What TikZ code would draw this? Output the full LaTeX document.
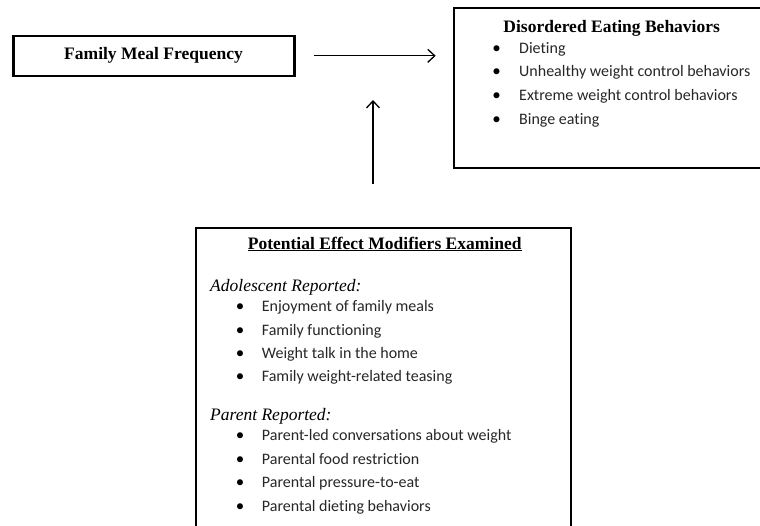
\documentclass[tikz,border=0pt]{standalone}
\usepackage{fontspec}
\setmainfont{Carlito}[Ligatures=NoCommon]
\newfontfamily\headfont{Liberation Serif}
\usetikzlibrary{arrows.meta}

\begin{document}
\begin{tikzpicture}[x=1pt,y=1pt,yscale=-1,xscale=1,
    box/.style={draw, line width=2.6pt, inner sep=0pt},
    flow/.style={line width=1.3pt, -{Straight Barb[length=7pt,width=13pt,line width=1.3pt]}},
    item/.style={anchor=base west, inner sep=0pt, text=black!85, font=\fontsize{16}{19}\selectfont},
    dot/.style={anchor=base, inner sep=0pt, font=\fontsize{17}{19}\selectfont},
    head/.style={anchor=base, inner sep=0pt, font=\headfont\bfseries\fontsize{17.5}{21}\selectfont},
    sub/.style={anchor=base west, inner sep=0pt, font=\headfont\itshape\fontsize{17.5}{21}\selectfont}]
    \useasboundingbox (0,0) rectangle (760,525);
    \clip (0,0) rectangle (760,525);

    %Shape: Rectangle [id:fmf]
    \node [box, minimum width=281, minimum height=40] (fmf) at (153.7,55.8) {};
    %Shape: Rectangle [id:deb]
    \node [box, minimum width=346, minimum height=160] (deb) at (627,88) {};
    %Shape: Rectangle [id:mod]
    \node [box, minimum width=375, minimum height=332] (mod) at (383.5,394) {};

    %Straight Lines [id:hflow]
    \coordinate (hstart) at ([xshift=18pt]fmf.east);
    \coordinate (hend) at ([xshift=-17pt]fmf.east -| deb.west);
    \draw [flow] (hstart) -- (hend) ;
    %Straight Lines [id:vflow]
    \coordinate (vstart) at ([yshift=-43pt]mod.north -| 373,0);
    \coordinate (vend) at (373,100);
    \draw [flow] (vstart) -- (vend) ;

    % Text Node
    \draw (153.5,59.3) node [head] (fmftext) {Family Meal Frequency};
    % Text Node
    \draw (611.7,32.3) node [head] (debtitle) {Disordered Eating Behaviors};
    % Text Node
    \draw (496.7,53) node [dot] (debdot1) {•};
    \draw (519,53) node [item] (deb1) {Dieting};
    % Text Node
    \draw (496.7,76.7) node [dot] (debdot2) {•};
    \draw (519,76.7) node [item] (deb2) {Unhealthy weight control behaviors};
    % Text Node
    \draw (496.7,100.4) node [dot] (debdot3) {•};
    \draw (519,100.4) node [item] (deb3) {Extreme weight control behaviors};
    % Text Node
    \draw (496.7,124.1) node [dot] (debdot4) {•};
    \draw (519,124.1) node [item] (deb4) {Binge eating};

    % Text Node
    \draw (384.7,249) node [head] (modtitle) {\underline{Potential Effect Modifiers Examined}};
    % Text Node
    \draw (210,291) node [sub] (adol) {Adolescent Reported:};
    % Text Node
    \draw (240,311.7) node [dot] (adoldot1) {•};
    \draw (261.7,311.7) node [item] (adol1) {Enjoyment of family meals};
    % Text Node
    \draw (240,335) node [dot] (adoldot2) {•};
    \draw (261.7,335) node [item] (adol2) {Family functioning};
    % Text Node
    \draw (240,358.3) node [dot] (adoldot3) {•};
    \draw (261.7,358.3) node [item] (adol3) {Weight talk in the home};
    % Text Node
    \draw (240,381.7) node [dot] (adoldot4) {•};
    \draw (261.7,381.7) node [item] (adol4) {Family weight-related teasing};
    % Text Node
    \draw (210,420) node [sub] (par) {Parent Reported:};
    % Text Node
    \draw (240,440.7) node [dot] (pardot1) {•};
    \draw (261.7,440.7) node [item] (par1) {Parent-led conversations about weight};
    % Text Node
    \draw (240,464) node [dot] (pardot2) {•};
    \draw (261.7,464) node [item] (par2) {Parental food restriction};
    % Text Node
    \draw (240,487.3) node [dot] (pardot3) {•};
    \draw (261.7,487.3) node [item] (par3) {Parental pressure-to-eat};
    % Text Node
    \draw (240,511.7) node [dot] (pardot4) {•};
    \draw (261.7,511.7) node [item] (par4) {Parental dieting behaviors};
\end{tikzpicture}
\end{document}
